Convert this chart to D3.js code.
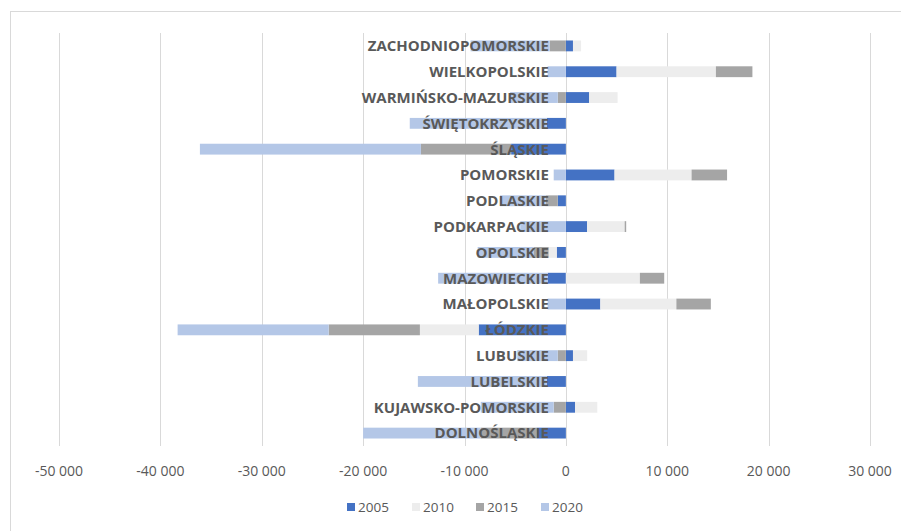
<!DOCTYPE html>
<meta charset="utf-8">
<script src="https://d3js.org/d3.v7.min.js"></script>
<style>
body { margin: 0; background: #fff; }
.cat { font-family: "Open Sans", sans-serif; font-weight: bold; font-size: 15px; fill: #595959; }
.tick-label { font-family: "Open Sans", sans-serif; font-size: 14px; fill: #595959; }
.legend { font-family: "Open Sans", sans-serif; font-size: 13.5px; fill: #595959; }
</style>
<svg id="chart" width="901" height="531"></svg>
<script>
// województwa, bottom to top as in the original chart
var categories = ["DOLNOŚLĄSKIE", "KUJAWSKO-POMORSKIE", "LUBELSKIE", "LUBUSKIE", "ŁÓDZKIE",
  "MAŁOPOLSKIE", "MAZOWIECKIE", "OPOLSKIE", "PODKARPACKIE", "PODLASKIE", "POMORSKIE",
  "ŚLĄSKIE", "ŚWIĘTOKRZYSKIE", "WARMIŃSKO-MAZURSKIE", "WIELKOPOLSKIE", "ZACHODNIOPOMORSKIE"];

var years = ["2005", "2010", "2015", "2020"];

var v2005 = [-2900, 900, -1900, 700, -8600, 3400, -1800, -900, 2100, -800, 4800, -5400, -1900, 2300, 5000, 700];
var v2010 = [0, 2200, 0, 1400, -5800, 7500, 7300, -800, 3700, 0, 7600, 0, 0, 2800, 9800, 800];
var v2015 = [-5500, -1200, 0, -800, -9000, 3400, 2400, -1500, 150, -1200, 3500, -8900, 0, -800, 3600, -1600];
var v2020 = [-11600, -7200, -12700, -4000, -14900, -1800, -10800, -5500, -4500, -4500, -1200, -21800, -13500, -4700, -1800, -7800];

var tickValues = [-50000, -40000, -30000, -20000, -10000, 0, 10000, 20000, 30000];

var colors = ["#4472C4", "#EDEDED", "#A5A5A5", "#B4C7E7"];

var rows = categories.map(function(c, i) {
  return {cat: c, "2005": v2005[i], "2010": v2010[i], "2015": v2015[i], "2020": v2020[i]};
});

var svg = d3.select("#chart");

// chart frame
svg.append("rect")
  .attr("x", 10.5).attr("y", 11.5)
  .attr("width", 900).attr("height", 530)
  .attr("fill", "none").attr("stroke", "#D9D9D9");

var x = d3.scaleLinear().domain([-50000, 30000]).range([59, 870]);
var y = d3.scaleBand().domain(categories.slice().reverse()).range([33, 446]).paddingInner(0.58).paddingOuter(0.29);

// gridlines
svg.append("g")
  .selectAll("line")
  .data(tickValues)
  .enter()
  .append("line")
    .attr("x1", function(d){ return Math.round(x(d)) + 0.5 })
    .attr("x2", function(d){ return Math.round(x(d)) + 0.5 })
    .attr("y1", 33).attr("y2", 446)
    .attr("stroke", "#D9D9D9").attr("stroke-width", 1);

var fmt = function(d) { return d3.format(",")(d).replace(/,/g, " ").replace("−", "-"); };

svg.append("g")
  .selectAll("text")
  .data(tickValues)
  .enter()
  .append("text")
    .attr("class", "tick-label")
    .attr("x", function(d){ return x(d) })
    .attr("y", 476)
    .attr("text-anchor", "middle")
    .text(fmt);

// stacked bars, negatives go left from 0
var series = d3.stack().keys(years).offset(d3.stackOffsetDiverging)(rows);

svg.append("g")
  .selectAll("g")
  .data(series)
  .enter()
  .append("g")
    .attr("fill", function(d, i){ return colors[i] })
  .selectAll("rect")
  .data(function(d){ return d })
  .enter()
  .append("rect")
    .attr("x", function(d){ return x(Math.min(d[0], d[1])) })
    .attr("width", function(d){ return Math.abs(x(d[1]) - x(d[0])) })
    .attr("y", function(d){ return y(d.data.cat) })
    .attr("height", y.bandwidth());

// category labels sit on the zero axis, over the bars
svg.append("g")
  .selectAll("text")
  .data(categories)
  .enter()
  .append("text")
    .attr("class", "cat")
    .attr("x", x(0) - 17)
    .attr("y", function(d){ return y(d) + y.bandwidth() / 2 })
    .attr("dy", "0.36em")
    .attr("text-anchor", "end")
    .text(function(d){ return d });

// legend
var legendX = [347, 412, 476, 541];
var lg = svg.append("g")
  .selectAll("g")
  .data(years)
  .enter()
  .append("g")
    .attr("transform", function(d, i){ return "translate(" + legendX[i] + ",507)" });

lg.append("rect")
  .attr("x", 0).attr("y", -4)
  .attr("width", 8).attr("height", 8)
  .attr("fill", function(d, i){ return colors[i] });

lg.append("text")
  .attr("class", "legend")
  .attr("x", 11)
  .attr("y", 0)
  .attr("dy", "0.36em")
  .text(function(d){ return d });
</script>
